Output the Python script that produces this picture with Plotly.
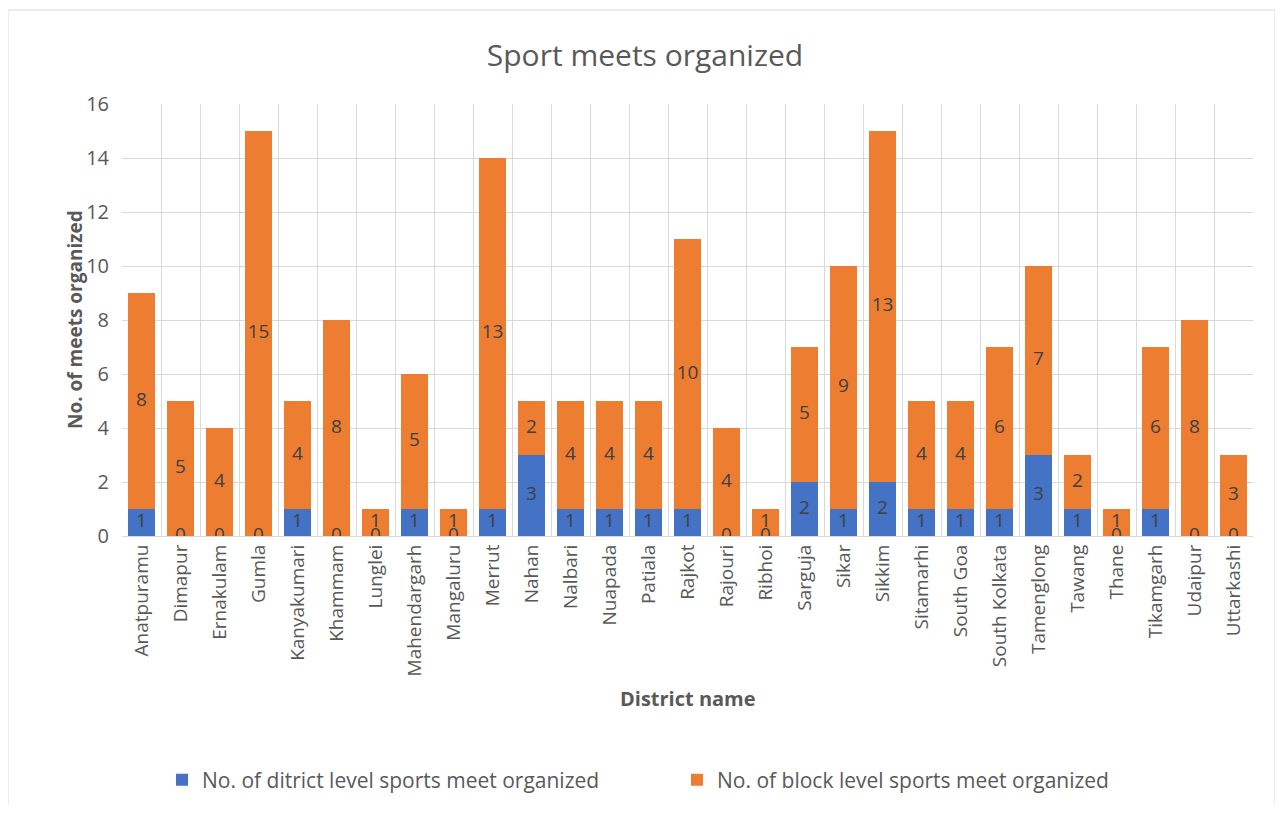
import plotly.graph_objects as go

districts = ["Anatpuramu", "Dimapur", "Ernakulam", "Gumla", "Kanyakumari", "Khammam",
             "Lunglei", "Mahendargarh", "Mangaluru", "Merrut", "Nahan", "Nalbari",
             "Nuapada", "Patiala", "Rajkot", "Rajouri", "Ribhoi", "Sarguja", "Sikar",
             "Sikkim", "Sitamarhi", "South Goa", "South Kolkata", "Tamenglong", "Tawang",
             "Thane", "Tikamgarh", "Udaipur", "Uttarkashi"]
district_level = [1, 0, 0, 0, 1, 0, 0, 1, 0, 1, 3, 1, 1, 1, 1, 0, 0, 2, 1, 2, 1, 1, 1, 3, 1, 0, 1, 0, 0]
block_level = [8, 5, 4, 15, 4, 8, 1, 5, 1, 13, 2, 4, 4, 4, 10, 4, 1, 5, 9, 13, 4, 4, 6, 7, 2, 1, 6, 8, 3]
y_ticks = [0, 2, 4, 6, 8, 10, 12, 14, 16]

BLUE = "#4472C4"
ORANGE = "#ED7D31"
TXT = "#595959"
LBL = "#404040"
FONT = "Open Sans"

fig = go.Figure()
fig.add_trace(go.Bar(x=districts, y=district_level, name="No. of ditrict level sports meet organized",
                     marker=dict(color=BLUE, line=dict(width=0))))
fig.add_trace(go.Bar(x=districts, y=block_level, name="No. of block level sports meet organized",
                     marker=dict(color=ORANGE, line=dict(width=0))))

# data labels
fig.add_trace(go.Scatter(x=districts, y=[d / 2 for d in district_level], mode="text",
                         text=[str(d) for d in district_level], showlegend=False, hoverinfo="skip",
                         textfont=dict(color=LBL, size=19, family=FONT)))
fig.add_trace(go.Scatter(x=districts, y=[d + b / 2 for d, b in zip(district_level, block_level)],
                         mode="text", text=[str(b) for b in block_level], showlegend=False,
                         hoverinfo="skip", textfont=dict(color=LBL, size=19, family=FONT)))

OFF = 8  # page body offset
W, H = 1283 - 2 * OFF, 813 - 2 * OFF
L, R, T, B = 122 - OFF, 1253 - OFF, 104 - OFF, 536 - OFF
pw, ph = R - L, B - T

def px(x):
    return (x - OFF - L) / pw

def py(y):
    return (B - (y - OFF)) / ph

fig.update_layout(
    width=W, height=H,
    barmode="stack", bargap=0.33,
    margin=dict(l=L, r=W - R, t=T, b=H - B, autoexpand=False),
    paper_bgcolor="white", plot_bgcolor="white",
    font=dict(family=FONT, color=TXT),
    title=dict(text="Sport meets organized", x=px(645), xref="paper", xanchor="center",
               y=1 - (55 - OFF) / H, yanchor="middle", font=dict(size=30, color=TXT, family=FONT)),
    legend=dict(orientation="h", x=px(162), xanchor="left", y=py(780), yanchor="middle",
                font=dict(size=21, color=TXT, family=FONT), itemsizing="constant",
                entrywidth=470, entrywidthmode="pixels", traceorder="normal"),
    xaxis=dict(type="category", range=[-0.5, len(districts) - 0.5], tickangle=-90,
               tickson="boundaries", showgrid=True,
               gridcolor="#D9D9D9", gridwidth=1, ticks="", showline=True, linecolor="#D9D9D9",
               tickfont=dict(size=19, color=TXT, family=FONT), automargin=False),
    yaxis=dict(range=[0, 16], tickvals=y_ticks, showgrid=True, gridcolor="#D9D9D9",
               zeroline=False, showline=False, ticks="", ticklabelstandoff=12, automargin=False,
               tickfont=dict(size=20, color=TXT, family=FONT)),
    annotations=[
        dict(text="<b>District name</b>", x=px(688), y=py(714), xref="paper", yref="paper",
             showarrow=False, font=dict(size=20, color=TXT, family=FONT)),
        dict(text="<b>No. of meets organized</b>", x=px(60), y=py(320), xref="paper", yref="paper",
             showarrow=False, textangle=-90, font=dict(size=19, color=TXT, family=FONT)),
    ],
    shapes=[dict(type="rect", xref="paper", yref="paper", x0=px(8), x1=px(1275), y0=py(808), y1=py(10),
                 line=dict(color="#D9D9D9", width=1), layer="below")],
)

fig.write_html("out.html")
